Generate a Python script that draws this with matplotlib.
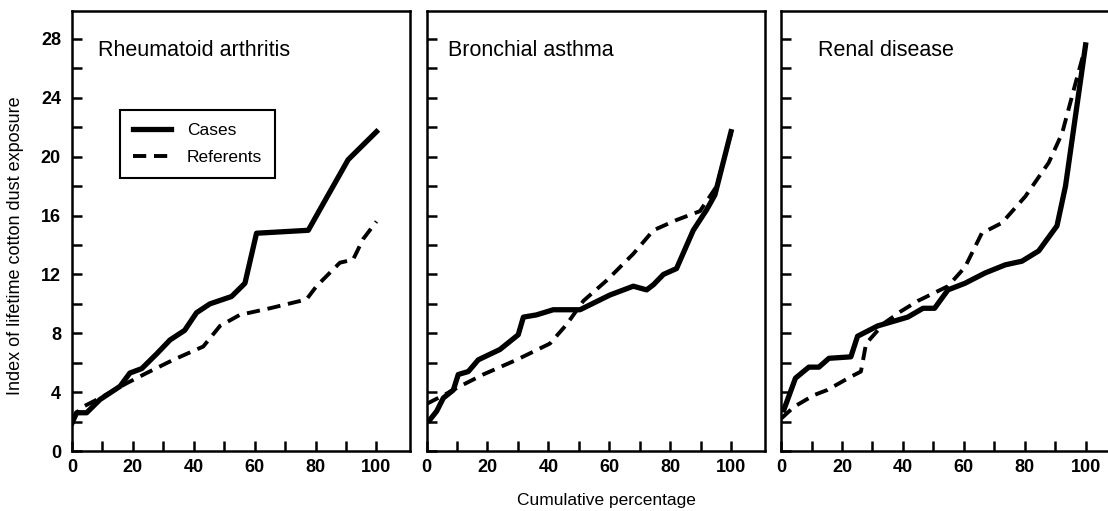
import matplotlib
matplotlib.use('Agg')
import matplotlib.pyplot as plt
from matplotlib.lines import Line2D

plt.rcParams['font.family'] = ['Liberation Sans', 'DejaVu Sans']

# Cumulative percentage (x) and index of lifetime cotton dust exposure (y)
ra_cases_x = [0, 1.5, 4.8, 9.2, 15.8, 19, 22.9, 27.8, 32.2, 37, 40.9, 45.3, 52.4, 56.8, 60.6, 77.6, 81.4, 90.7, 100]
ra_cases_y = [1.9, 2.6, 2.6, 3.5, 4.4, 5.3, 5.6, 6.6, 7.55, 8.2, 9.4, 10.0, 10.5, 11.4, 14.8, 15.0, 16.4, 19.8, 21.7]
ra_ref_x = [0, 2.6, 9.2, 17.9, 24.5, 33.3, 43.1, 48.6, 55.1, 65, 77, 80.3, 88, 92.3, 95.6, 100]
ra_ref_y = [2.0, 2.9, 3.6, 4.6, 5.3, 6.2, 7.1, 8.5, 9.25, 9.7, 10.3, 11.2, 12.8, 13.0, 14.4, 15.6]

ba_cases_x = [1, 3.3, 5.5, 8.8, 10.4, 13.7, 17, 24.1, 30.1, 31.8, 36.1, 41.6, 50.4, 60.2, 67.9, 72.3, 74.5, 77.8, 82.1, 87.6, 92, 94.7, 100]
ba_cases_y = [2.1, 2.7, 3.6, 4.15, 5.2, 5.4, 6.2, 6.9, 7.9, 9.1, 9.25, 9.6, 9.6, 10.6, 11.2, 10.95, 11.3, 12.0, 12.4, 15.0, 16.4, 17.4, 21.7]
ba_ref_x = [0, 6.6, 11, 18.6, 29.6, 40.5, 46, 51.5, 59.2, 67.9, 74.5, 82.1, 89.8, 95.3, 100]
ba_ref_y = [3.2, 3.9, 4.4, 5.2, 6.2, 7.3, 8.6, 10.2, 11.6, 13.4, 15.0, 15.7, 16.3, 18.0, 21.6]

rd_cases_x = [0.9, 4.7, 9.1, 12.4, 15.7, 22.9, 25.1, 31.7, 41.6, 46.6, 50.4, 54.8, 60.4, 67, 73.6, 79.1, 84.6, 90.6, 93.4, 100]
rd_cases_y = [2.8, 4.95, 5.7, 5.7, 6.3, 6.4, 7.8, 8.5, 9.1, 9.7, 9.7, 10.95, 11.4, 12.1, 12.65, 12.9, 13.6, 15.3, 18.0, 27.6]
rd_ref_x = [0, 4.2, 10.8, 15.2, 22.9, 26.2, 27.9, 33.9, 39.4, 44.9, 54.8, 60.4, 65.9, 72.5, 80.2, 87.9, 92.3, 96.7, 100]
rd_ref_y = [2.2, 3.0, 3.8, 4.15, 5.05, 5.4, 7.3, 8.7, 9.5, 10.2, 11.2, 12.5, 14.8, 15.5, 17.3, 19.6, 21.6, 25.0, 27.5]

titles = ['Rheumatoid arthritis', 'Bronchial asthma', 'Renal disease']
title_x = [0.077, 0.063, 0.11]
panels = [
    (ra_cases_x, ra_cases_y, ra_ref_x, ra_ref_y),
    (ba_cases_x, ba_cases_y, ba_ref_x, ba_ref_y),
    (rd_cases_x, rd_cases_y, rd_ref_x, rd_ref_y),
]
lefts = [0.065, 0.385, 0.705]
dash = (0, (3.4, 2.0))

fig = plt.figure(figsize=(11.08, 5.11), dpi=100)

for i, (cx, cy, rx, ry) in enumerate(panels):
    ax = fig.add_axes([lefts[i], 0.1174, 0.305, 0.861])
    ax.plot(rx, ry, color='black', lw=2.8, linestyle=dash,
            solid_capstyle='butt', dash_capstyle='butt')
    ax.plot(cx, cy, color='black', lw=3.8, solid_joinstyle='round')
    ax.set_xlim(0, 111)
    ax.set_ylim(0, 29.9)
    ax.set_xticks(range(0, 101, 20))
    ax.set_xticks(range(10, 100, 20), minor=True)
    ax.set_yticks(range(0, 29, 4))
    ax.set_yticks(range(2, 27, 4), minor=True)
    ax.tick_params(which='both', direction='in', length=7, width=1.8, color='black')
    ax.tick_params(axis='x', which='major', pad=6, labelsize=13)
    ax.tick_params(axis='y', which='major', pad=8, labelsize=13)
    for lab in ax.get_xticklabels() + ax.get_yticklabels():
        lab.set_fontweight('bold')
    if i > 0:
        ax.set_yticklabels([])
    for s in ax.spines.values():
        s.set_linewidth(1.8)
    ax.text(title_x[i], 0.911, titles[i], transform=ax.transAxes,
            fontsize=15.5, ha='left', va='center')
    if i == 0:
        handles = [Line2D([], [], color='black', lw=3.8),
                   Line2D([], [], color='black', lw=2.8, linestyle=dash)]
        leg = ax.legend(handles, ['Cases', 'Referents'], loc='upper left',
                        bbox_to_anchor=(0.142, 0.775), borderaxespad=0,
                        fontsize=12.5, fancybox=False, framealpha=1,
                        edgecolor='black', handlelength=2.2, handletextpad=0.9,
                        borderpad=0.75, labelspacing=0.65)
        leg.get_frame().set_linewidth(1.5)

fig.text(0.014, 0.52, 'Index of lifetime cotton dust exposure', rotation=90,
         ha='center', va='center', fontsize=13)
fig.text(0.547, 0.02, 'Cumulative percentage', ha='center', va='center', fontsize=12.5)

fig.savefig('out.png', dpi=100)
